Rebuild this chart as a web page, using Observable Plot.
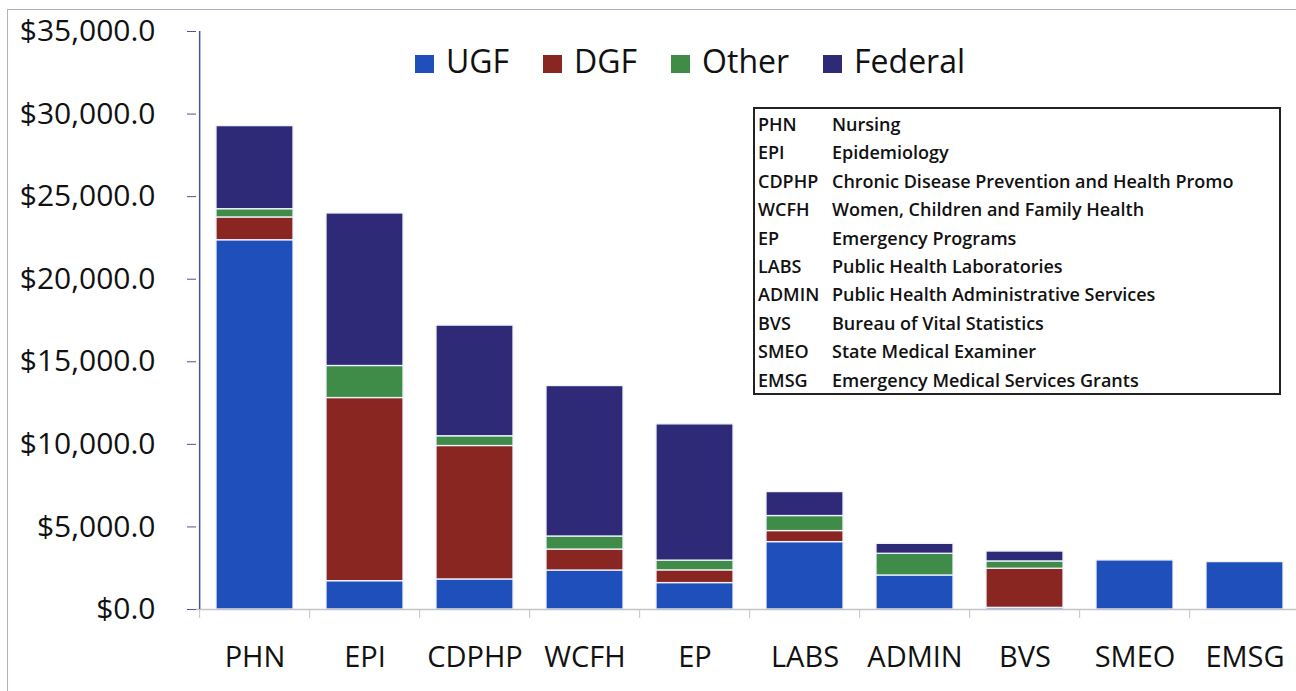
<!DOCTYPE html>
<html>
<head>
<meta charset="utf-8">
<script src="https://cdn.jsdelivr.net/npm/d3@7"></script>
<script src="https://cdn.jsdelivr.net/npm/@observablehq/plot@0.6"></script>
<style>
  body { margin: 0; background: #fff; font-family: "Open Sans", sans-serif; }
  #wrap { position: relative; width: 1296px; height: 691px; overflow: hidden; background: #fff; }
  #frame { position: absolute; left: 7px; top: 9px; width: 1300px; height: 700px;
           border-top: 1.5px solid #aeb2c4; border-left: 1.5px solid #aeb2c4; pointer-events: none; }
  #legend { position: absolute; top: 38px; left: 415px; display: flex; align-items: center;
            font-size: 32px; color: #111; line-height: 46px; }
  #legend .item { display: flex; align-items: center; margin-right: 34px; }
  #legend .sw { width: 19px; height: 18px; margin-right: 12px; margin-top: 6px; }
  #abbr { position: absolute; left: 753px; top: 107px; width: 524px; height: 284px;
          border: 2px solid #222; background: #fff; }
  #abbr table { border-collapse: collapse; margin-top: 1px; }
  #abbr td { font-size: 18px; font-weight: 600; color: #111; line-height: 28.4px; padding: 0; white-space: nowrap; }
  #abbr td.k { padding-left: 3px; width: 74px; }
  svg { position: absolute; left: 0; top: 0; }
</style>
</head>
<body>
<div id="wrap">
  <div id="chart"></div>
  <div id="frame"></div>
  <div id="legend"></div>
  <div id="abbr"><table id="abbrTable"></table></div>
</div>
<script>
// ---- data ----
const categories = ["PHN", "EPI", "CDPHP", "WCFH", "EP", "LABS", "ADMIN", "BVS", "SMEO", "EMSG"];
const seriesNames = ["UGF", "DGF", "Other", "Federal"];
const seriesColors = ["#1f4fbb", "#8a2622", "#3f8b48", "#2e2a78"];
const UGF     = [22360, 1715, 1820, 2360, 1600, 4080, 2060, 100, 2970, 2870];
const DGF     = [1380, 11090, 8080, 1270, 770, 670, 0, 2370, 0, 0];
const Other   = [500, 1940, 590, 790, 590, 910, 1315, 440, 0, 0];
const Federal = [5030, 9235, 6700, 9110, 8250, 1450, 600, 600, 0, 0];
const yTicks = [0, 5000, 10000, 15000, 20000, 25000, 30000, 35000];
const abbrCodes = ["PHN", "EPI", "CDPHP", "WCFH", "EP", "LABS", "ADMIN", "BVS", "SMEO", "EMSG"];
const abbrNames = ["Nursing", "Epidemiology", "Chronic Disease Prevention and Health Promo",
  "Women, Children and Family Health", "Emergency Programs", "Public Health Laboratories",
  "Public Health Administrative Services", "Bureau of Vital Statistics",
  "State Medical Examiner", "Emergency Medical Services Grants"];

const seriesValues = [UGF, DGF, Other, Federal];
const rows = [];
categories.forEach((c, i) => {
  seriesNames.forEach((s, j) => {
    const v = seriesValues[j][i];
    if (v > 0) rows.push({cat: c, series: s, value: v});
  });
});

// ---- layout ----
const W = 1296, H = 691;
const mL = 196, mR = -7;
const step = (W - mR - mL) / categories.length;

const chart = Plot.plot({
  width: W,
  height: H,
  marginTop: 31,
  marginBottom: 82,
  marginLeft: mL,
  marginRight: mR,
  style: {fontFamily: "'Open Sans', sans-serif", background: "transparent", overflow: "visible"},
  x: {domain: categories, paddingInner: 0.3, paddingOuter: 0.15, axis: null, label: null},
  y: {domain: [0, 35000], axis: null, label: null},
  color: {domain: seriesNames, range: seriesColors},
  marks: [
    Plot.barY(rows, Plot.stackY({x: "cat", y: "value", fill: "series", stroke: "#eef2fa", strokeWidth: 1.3})),
    Plot.ruleY([0], {stroke: "#c4c4c8", strokeWidth: 1.5}),
    Plot.axisX({tickSize: 9, tickFormat: () => "", dx: -step / 2, stroke: "#c4c4c8", label: null}),
    Plot.axisX({tickSize: 0, tickPadding: 37, fontSize: 29, color: "#111", label: null}),
    Plot.ruleX([categories[0]], {dx: -step / 2, y1: 0, y2: 35000, stroke: "#4a5590", strokeWidth: 1.5}),
    Plot.axisY({ticks: yTicks, tickSize: 9, tickPadding: 32, tickFormat: d3.format("$,.1f"),
      fontSize: 30, color: "#111", stroke: "#4a5590", label: null})
  ]
});
document.getElementById("chart").appendChild(chart);

// ---- legend ----
const legend = document.getElementById("legend");
seriesNames.forEach((s, i) => {
  const item = document.createElement("div");
  item.className = "item";
  const sw = document.createElement("div");
  sw.className = "sw";
  sw.style.background = seriesColors[i];
  const t = document.createElement("span");
  t.textContent = s;
  item.appendChild(sw);
  item.appendChild(t);
  legend.appendChild(item);
});

// ---- abbreviation box ----
const tbl = document.getElementById("abbrTable");
abbrCodes.forEach((k, i) => {
  const tr = document.createElement("tr");
  const a = document.createElement("td"); a.className = "k"; a.textContent = k;
  const b = document.createElement("td"); b.textContent = abbrNames[i];
  tr.appendChild(a); tr.appendChild(b);
  tbl.appendChild(tr);
});
</script>
</body>
</html>
